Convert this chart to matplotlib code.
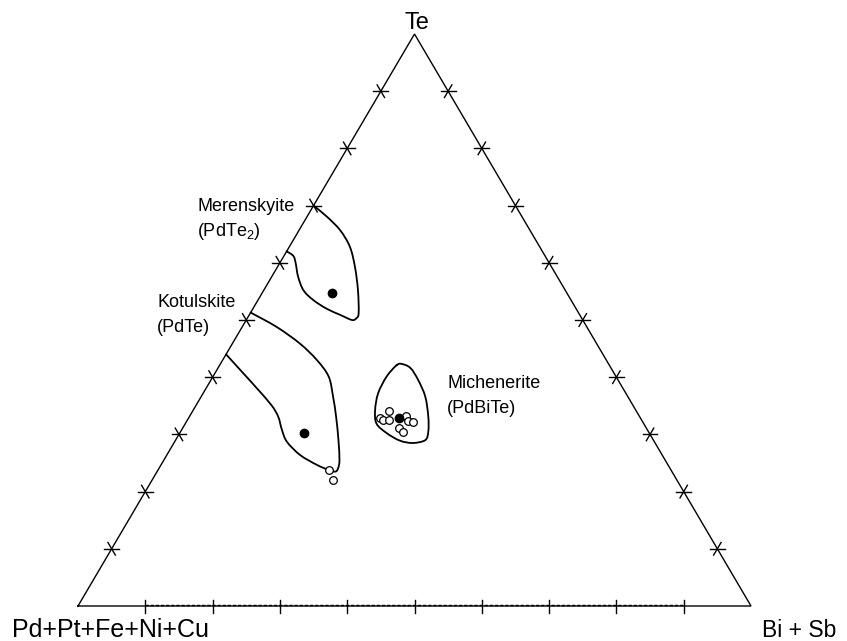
import numpy as np
import matplotlib
matplotlib.use("Agg")
import matplotlib.pyplot as plt
from matplotlib.path import Path
from matplotlib.patches import PathPatch

plt.rcParams['font.family'] = ['Liberation Sans', 'DejaVu Sans']
plt.rcParams['mathtext.fontset'] = 'custom'
plt.rcParams['mathtext.rm'] = 'Liberation Sans'
plt.rcParams['mathtext.it'] = 'Liberation Sans:italic'
plt.rcParams['mathtext.default'] = 'regular'

# ---- data (percent: Te and Bi+Sb; Pd+Pt+Fe+Ni+Cu is the remainder) ----
tick_values = [10, 20, 30, 40, 50, 60, 70, 80, 90]

merenskyite_te = [70.0, 68.1, 65.7, 62.8, 59.3, 55.2, 51.2, 50.3, 50.0, 50.9, 52.0,
                  53.5, 55.2, 57.6, 59.9, 61.2, 62.0]
merenskyite_bi = [0.0, 2.9, 6.1, 9.0, 11.5, 14.0, 16.1, 16.2, 15.7, 13.5, 10.9,
                  8.2, 5.9, 3.9, 2.4, 1.4, 0.0]

kotulskite_te = [51.3, 48.8, 45.9, 43.0, 40.1, 36.6, 33.1, 29.0, 25.5, 24.1, 23.5,
                 23.8, 24.7, 26.4, 28.7, 30.8, 33.1, 35.1, 38.1, 40.7, 44.0]
kotulskite_bi = [0.0, 5.1, 10.0, 14.0, 17.2, 19.6, 21.8, 24.2, 26.1, 26.6, 26.5,
                 25.3, 23.1, 19.8, 16.7, 14.9, 13.2, 11.2, 7.5, 4.2, 0.0]

michenerite_te = [42.1, 40.1, 37.2, 34.3, 31.9, 30.2, 28.9, 28.5, 29.0, 30.5, 33.1,
                  36.6, 39.5, 41.6, 42.3]
michenerite_bi = [26.3, 25.8, 26.0, 27.0, 28.4, 30.8, 33.4, 35.5, 37.1, 36.8, 35.5,
                  33.3, 30.8, 28.6, 27.0]

mean_te = [54.7, 30.2, 32.8]
mean_bi = [10.4, 18.5, 31.3]

anal_te = [23.7, 22.0, 34.1, 32.9, 32.5, 32.5, 33.2, 32.4, 32.2, 31.1, 30.5]
anal_bi = [25.4, 26.9, 29.2, 28.4, 29.1, 30.0, 32.2, 32.9, 33.7, 32.1, 33.1]

H = np.sqrt(3) / 2


def to_xy(bi, te):
    bi = np.asarray(bi, float) / 100.0
    te = np.asarray(te, float) / 100.0
    return bi + te / 2.0, te * H


def smooth_path(x, y, closed=False):
    """Catmull-Rom anchors rendered as cubic Bezier segments."""
    P = np.column_stack([x, y])
    n = len(P)
    verts = [P[0]]
    codes = [Path.MOVETO]
    segs = n if closed else n - 1
    for i in range(segs):
        p0 = P[(i - 1) % n] if (closed or i > 0) else P[i]
        p1 = P[i % n]
        p2 = P[(i + 1) % n]
        p3 = P[(i + 2) % n] if (closed or i + 2 < n) else P[(i + 1) % n]
        c1 = p1 + (p2 - p0) / 6.0
        c2 = p2 - (p3 - p1) / 6.0
        verts += [c1, c2, p2]
        codes += [Path.CURVE4] * 3
    return Path(verts, codes)


W, Hpx = 847, 641
fig = plt.figure(figsize=(W / 100, Hpx / 100), dpi=100)
ax = fig.add_axes([78 / W, 35 / Hpx, 673 / W, 572 / Hpx])
ax.set_xlim(0, 1)
ax.set_ylim(0, H)
ax.axis('off')

lw = 1.0
# triangle frame
fx, fy = to_xy([0, 100, 0, 0], [0, 0, 100, 0])
ax.plot(fx, fy, color='black', lw=lw, clip_on=False, solid_joinstyle='miter')
# dashed overlay on bottom edge
bx, by = to_xy([tick_values[0], tick_values[-1]], [0, 0])
ax.plot(bx, np.array(by) + 1.4 / 572 * H, color='black', lw=1.0,
        linestyle=(0, (2.4, 1.3)), clip_on=False)

d = 1.1  # stub half-length in percent
for t in tick_values:
    # left edge (Bi+Sb = 0, Te = t)
    x, y = to_xy([-d, d], [t, t])
    ax.plot(x, y, color='black', lw=lw, clip_on=False)
    x, y = to_xy([-d, d], [t + d, t - d])
    ax.plot(x, y, color='black', lw=lw, clip_on=False)
    # right edge (Pd = 0, Te = t)
    x, y = to_xy([100 - t - d, 100 - t + d], [t, t])
    ax.plot(x, y, color='black', lw=lw, clip_on=False)
    x, y = to_xy([100 - t, 100 - t], [t - d, t + d])
    ax.plot(x, y, color='black', lw=lw, clip_on=False)
    # bottom edge (Te = 0, Bi = t): vertical stub
    x, y = to_xy([t, t], [0, 0])
    ax.plot(x, [-7 / 572 * H, 6 / 572 * H], color='black', lw=lw, clip_on=False)

for te, bi, closed in [(merenskyite_te, merenskyite_bi, False),
                       (kotulskite_te, kotulskite_bi, False),
                       (michenerite_te, michenerite_bi, True)]:
    x, y = to_xy(bi, te)
    ax.add_patch(PathPatch(smooth_path(x, y, closed), facecolor='none',
                           edgecolor='black', lw=1.3, clip_on=False,
                           joinstyle='round', capstyle='round'))

x, y = to_xy(anal_bi, anal_te)
ax.plot(x, y, 'o', ms=5.5, mfc='white', mec='black', mew=0.9, ls='none', clip_on=False)
x, y = to_xy(mean_bi, mean_te)
ax.plot(x, y, 'o', ms=6, mfc='black', mec='black', ls='none', clip_on=False, zorder=5)


def ptext(px, py, s, size, ha='left'):
    fig.text(px / W, 1 - py / Hpx, s, fontsize=size, ha=ha, va='baseline')


ptext(417, 29, 'Te', 17, ha='center')
ptext(12, 637, 'Pd+Pt+Fe+Ni+Cu', 18)
ptext(762, 637, 'Bi + Sb', 16.5)
ptext(197, 211, 'Merenskyite', 13)
ptext(197, 236, '(PdTe$_2$)', 13)
ptext(157, 307, 'Kotulskite', 13)
ptext(157, 332, '(PdTe)', 13)
ptext(447, 388, 'Michenerite', 13)
ptext(447, 413, '(PdBiTe)', 13)

fig.savefig('out.png', dpi=100)
